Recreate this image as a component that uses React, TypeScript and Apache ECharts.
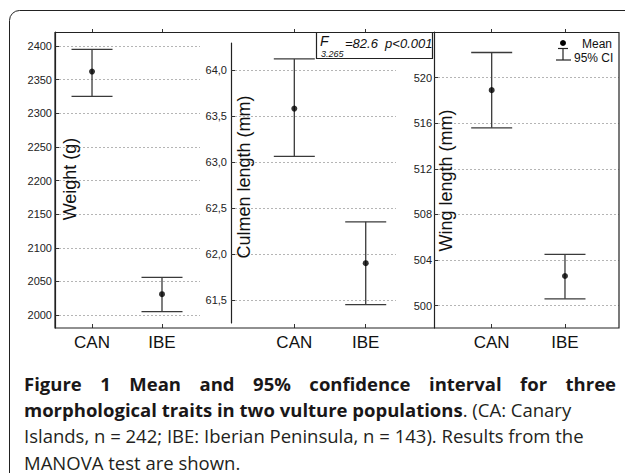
import React, { useEffect, useRef } from 'react';
import * as echarts from 'echarts';

// ---------- data ----------
const categories = ['CAN', 'IBE'];

const weightMean = [2362, 2031];
const weightLow = [2325, 2005];
const weightHigh = [2395, 2056];

const culmenMean = [63.58, 61.9];
const culmenLow = [63.06, 61.45];
const culmenHigh = [64.12, 62.35];

const wingMean = [518.9, 502.6];
const wingLow = [515.6, 500.6];
const wingHigh = [522.2, 504.5];

const weightTicks = [2000, 2050, 2100, 2150, 2200, 2250, 2300, 2350, 2400];
const culmenTicks = [61.5, 62.0, 62.5, 63.0, 63.5, 64.0];
const wingTicks = [500, 504, 508, 512, 516, 520];

const axisTitles = ['Weight (g)', 'Culmen length (mm)', 'Wing length (mm)'];
const legendLabels = ['Mean', '95% CI'];
const statF = 'F';
const statDf = '3.265';
const statRest = '=82.6  p<0.001';

const captionLine1 = 'Figure 1 Mean and 95% confidence interval for three';
const captionLine2Bold = 'morphological traits in two vulture populations';
const captionLine2Rest = '. (CA: Canary';
const captionLine3 = 'Islands, n = 242; IBE: Iberian Peninsula, n = 143). Results from the';
const captionLine4 = 'MANOVA test are shown.';

// ---------- layout ----------
const AX_FONT = '"Liberation Sans", Arial, sans-serif';
const CAP_FONT = '"Open Sans", sans-serif';
const CAP_SIZE = 18.5;

const panels = [
  {
    mean: weightMean, low: weightLow, high: weightHigh, ticks: weightTicks,
    grid: { left: 55, top: 32, width: 145, height: 296 },
    yMin: 1980.7, yMax: 2420.8, xMin: -0.529, xMax: 1.543,
    fmt: (v: number) => String(v), labelMargin: 3, xOffset: 0, topOffset: 0,
    title: { x: 70, y: 179 },
  },
  {
    mean: culmenMean, low: culmenLow, high: culmenHigh, ticks: culmenTicks,
    grid: { left: 231, top: 43, width: 165, height: 280 },
    yMin: 61.25, yMax: 64.293, xMin: -0.8866, xMax: 1.424,
    fmt: (v: number) => v.toFixed(1).replace('.', ','), labelMargin: 4, xOffset: 5, topOffset: 11,
    title: { x: 243.5, y: 177 },
  },
  {
    mean: wingMean, low: wingLow, high: wingHigh, ticks: wingTicks,
    grid: { left: 434, top: 32, width: 185, height: 296 },
    yMin: 498.04, yMax: 524.0, xMin: -0.787, xMax: 1.737,
    fmt: (v: number) => String(v), labelMargin: 2, xOffset: 0, topOffset: 0,
    title: { x: 445.5, y: 180.5 },
  },
];

function measure(text: string, font: string): number {
  const c = document.createElement('canvas');
  const ctx = c.getContext('2d');
  if (!ctx) return text.length * 10;
  ctx.font = font;
  return ctx.measureText(text).width;
}

export default function App() {
  const ref = useRef<HTMLDivElement>(null);

  useEffect(() => {
    if (!ref.current) return;
    const chart = echarts.init(ref.current, null, { renderer: 'svg' });

    const grids: any[] = [];
    const xAxes: any[] = [];
    const yAxes: any[] = [];
    const series: any[] = [];
    const titles: any[] = [];

    panels.forEach((p, i) => {
      grids.push({ ...p.grid, containLabel: false });
      xAxes.push({
        type: 'value', gridIndex: i, min: p.xMin, max: p.xMax, position: 'bottom', offset: p.xOffset,
        axisLine: { show: false, onZero: false },
        axisTick: { show: true, inside: true, length: 4, customValues: [0, 1], lineStyle: { color: '#333' } },
        axisLabel: {
          customValues: [0, 1], formatter: (v: number) => categories[Math.round(v)] ?? '',
          fontSize: 17, color: '#111', fontFamily: AX_FONT, margin: 6,
        },
        splitLine: { show: false },
      });
      xAxes.push({
        type: 'value', gridIndex: i, min: p.xMin, max: p.xMax, position: 'top', offset: p.topOffset,
        axisLine: { show: false, onZero: false },
        axisTick: { show: true, inside: false, length: 3, customValues: [0, 1], lineStyle: { color: '#333' } },
        axisLabel: { show: false },
        splitLine: { show: false },
      });
      yAxes.push({
        type: 'value', gridIndex: i, min: p.yMin, max: p.yMax, position: 'left',
        axisLine: { show: true, onZero: false, lineStyle: { color: '#222', width: 1.2 } },
        axisTick: { show: true, inside: true, length: 4, customValues: p.ticks, lineStyle: { color: '#333' } },
        axisLabel: {
          customValues: p.ticks, formatter: p.fmt, fontSize: 11, color: '#222',
          fontFamily: AX_FONT, margin: p.labelMargin,
        },
        splitLine: { show: true, lineStyle: { color: '#b5b5b5', type: [2, 2], width: 1 } },
      });
      titles.push({
        type: 'text', x: p.title.x, y: p.title.y, rotation: Math.PI / 2, z: 12,
        style: { text: axisTitles[i], fontSize: 18, fontFamily: AX_FONT, fill: '#111', align: 'center', verticalAlign: 'middle' },
      });
      series.push({
        type: 'custom', name: legendLabels[1], xAxisIndex: i * 2, yAxisIndex: i, z: 2,
        data: categories.map((_, k) => [k, p.mean[k], p.low[k], p.high[k]]),
        encode: { x: 0, y: [2, 3] },
        renderItem: (params: any, api: any) => {
          const x = api.value(0);
          const top = api.coord([x, api.value(3)]);
          const bot = api.coord([x, api.value(2)]);
          const half = 20.5;
          const style = { stroke: '#3a3a3a', lineWidth: 1.3, fill: 'none' };
          return {
            type: 'group',
            children: [
              { type: 'line', shape: { x1: top[0], y1: top[1], x2: bot[0], y2: bot[1] }, style },
              { type: 'line', shape: { x1: top[0] - half, y1: top[1], x2: top[0] + half, y2: top[1] }, style },
              { type: 'line', shape: { x1: bot[0] - half, y1: bot[1], x2: bot[0] + half, y2: bot[1] }, style },
            ],
          };
        },
      });
      series.push({
        type: 'scatter', name: legendLabels[0], xAxisIndex: i * 2, yAxisIndex: i, z: 3,
        symbol: 'circle', symbolSize: 6, itemStyle: { color: '#000' },
        data: categories.map((_, k) => [k, p.mean[k]]),
      });
    });

    // justified first caption line
    const boldFont = `bold ${CAP_SIZE}px "Open Sans"`;
    const words = captionLine1.split(' ');
    const widths = words.map((w) => measure(w, boldFont));
    const left = 24;
    const right = 616;
    const gap = (right - left - widths.reduce((a, b) => a + b, 0)) / (words.length - 1);
    let cx = left;
    const line1Texts = words.map((w, k) => {
      const el = {
        type: 'text', x: cx, y: 383,
        style: { text: w, fontSize: CAP_SIZE, fontWeight: 'bold', fontFamily: CAP_FONT, fill: '#1a1718', align: 'left', verticalAlign: 'middle' },
      };
      cx += widths[k] + gap;
      return el;
    });

    const lineStyle = { stroke: '#222', lineWidth: 1.2 };

    chart.setOption({
      animation: false,
      backgroundColor: '#fff',
      grid: grids,
      xAxis: xAxes,
      yAxis: yAxes,
      series,
      graphic: [
        // outer figure frame
        { type: 'rect', shape: { x: 9.5, y: 10.5, width: 800, height: 600, r: [10, 0, 0, 0] }, style: { fill: 'none', stroke: '#222', lineWidth: 1 }, silent: true },
        // plot box
        { type: 'rect', shape: { x: 55, y: 32.5, width: 564, height: 295.5 }, style: { fill: 'none', stroke: '#222', lineWidth: 1.2 }, silent: true, z: 10 },
        ...titles,
        // statistic box
        { type: 'rect', shape: { x: 316.5, y: 32.5, width: 116, height: 26 }, style: { fill: '#fff', stroke: '#222', lineWidth: 1.2 }, z: 11 },
        { type: 'text', x: 320, y: 40.5, z: 12, style: { text: statF, fontSize: 14, fontStyle: 'italic', fontFamily: AX_FONT, fill: '#111', verticalAlign: 'middle' } },
        { type: 'text', x: 321, y: 53.5, z: 12, style: { text: statDf, fontSize: 9, fontStyle: 'italic', fontFamily: AX_FONT, fill: '#111', verticalAlign: 'middle' } },
        { type: 'text', x: 345, y: 43, z: 12, style: { text: statRest, fontSize: 13, fontStyle: 'italic', fontFamily: AX_FONT, fill: '#111', verticalAlign: 'middle' } },
        // legend
        { type: 'circle', shape: { cx: 563, cy: 43, r: 3 }, style: { fill: '#000' }, z: 12 },
        { type: 'text', x: 582, y: 43.5, z: 12, style: { text: legendLabels[0], fontSize: 12, fontFamily: AX_FONT, fill: '#111', verticalAlign: 'middle' } },
        { type: 'line', shape: { x1: 558, y1: 48.5, x2: 568, y2: 48.5 }, style: lineStyle, z: 12 },
        { type: 'line', shape: { x1: 563, y1: 48.5, x2: 563, y2: 60 }, style: lineStyle, z: 12 },
        { type: 'line', shape: { x1: 556, y1: 60, x2: 571, y2: 60 }, style: lineStyle, z: 12 },
        { type: 'text', x: 574, y: 57.5, z: 12, style: { text: legendLabels[1], fontSize: 12, fontFamily: AX_FONT, fill: '#111', verticalAlign: 'middle' } },
        // caption
        ...line1Texts,
        {
          type: 'text', x: 24, y: 409,
          style: {
            text: `{b|${captionLine2Bold}}{r|${captionLine2Rest}}`,
            verticalAlign: 'middle',
            rich: {
              b: { fontSize: CAP_SIZE, fontWeight: 'bold', fontFamily: CAP_FONT, fill: '#1a1718' },
              r: { fontSize: CAP_SIZE, fontFamily: CAP_FONT, fill: '#231f20' },
            },
          },
        },
        { type: 'text', x: 24, y: 435.5, style: { text: captionLine3, fontSize: CAP_SIZE, fontFamily: CAP_FONT, fill: '#231f20', verticalAlign: 'middle' } },
        { type: 'text', x: 24, y: 462, style: { text: captionLine4, fontSize: CAP_SIZE, fontFamily: CAP_FONT, fill: '#231f20', verticalAlign: 'middle' } },
      ],
    });

    return () => chart.dispose();
  }, []);

  return (
    <div
      ref={ref}
      style={{ position: 'fixed', left: 0, top: 0, width: 625, height: 473, background: '#fff' }}
    />
  );
}
